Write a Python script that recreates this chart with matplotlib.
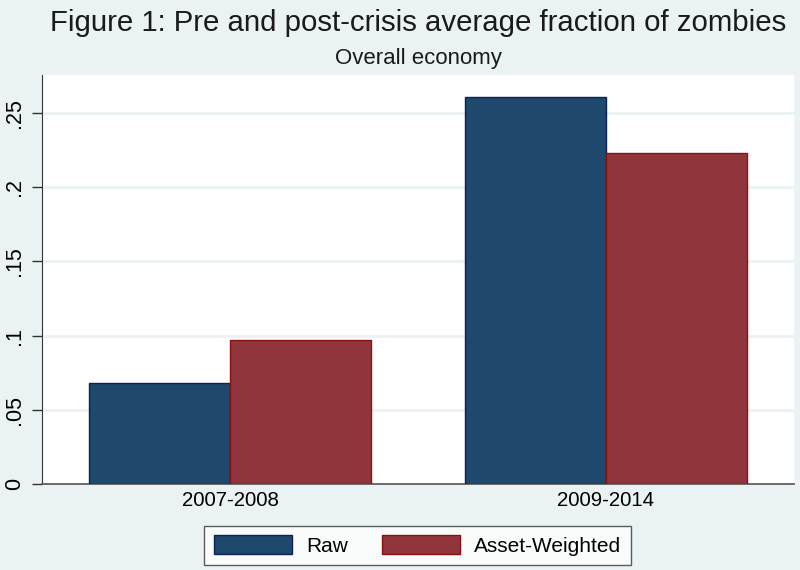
import matplotlib
matplotlib.use('Agg')
import matplotlib.pyplot as plt
import numpy as np

periods = ['2007-2008', '2009-2014']
raw = [0.068, 0.261]
asset_weighted = [0.097, 0.223]
yticks = [0, 0.05, 0.1, 0.15, 0.2, 0.25]
ytick_labels = ['0', '.05', '.1', '.15', '.2', '.25']

bg = '#eaf2f3'
navy = '#1f486d'
maroon = '#8f353b'

plt.rcParams['font.family'] = ['Liberation Sans', 'DejaVu Sans']

fig = plt.figure(figsize=(8, 5.7), dpi=100, facecolor=bg)
ax = fig.add_axes([42 / 800, 86 / 570, 752 / 800, 409 / 570])
ax.set_facecolor('white')

x = np.arange(len(periods))
w = 0.375
ax.bar(x - w / 2, raw, w, color=navy, edgecolor='#0d2357', linewidth=1.0,
       label='Raw', zorder=3)
ax.bar(x + w / 2, asset_weighted, w, color=maroon, edgecolor='#8b1010',
       linewidth=1.0, label='Asset-Weighted', zorder=3)

ax.set_xlim(-0.5, 1.5)
ax.set_ylim(0, 0.2756)
ax.set_yticks(yticks)
ax.set_yticklabels(ytick_labels, rotation=90, va='center', fontsize=15.5)
ax.set_xticks(x)
ax.set_xticklabels(periods, fontsize=14.7)
ax.tick_params(axis='y', length=7, width=1, color='#333333', pad=5)
ax.tick_params(axis='x', length=0, pad=5)
ax.yaxis.grid(True, color=bg, linewidth=2, zorder=0)
ax.set_axisbelow(True)

for side in ['top', 'right']:
    ax.spines[side].set_visible(False)
ax.spines['left'].set_color('#333333')
ax.spines['bottom'].set_color('#555555')
ax.spines['bottom'].set_linewidth(1.2)

fig.text(0.5225, 0.96, 'Figure 1: Pre and post-crisis average fraction of zombies',
         ha='center', va='center', fontsize=21.2, color='#1a1a1a')
fig.text(0.5225, 0.898, 'Overall economy', ha='center', va='center', fontsize=16,
         color='#1a1a1a')

leg = fig.legend(loc='center', bbox_to_anchor=(417.5 / 800, 1 - 545.5 / 570), ncol=2,
                 fontsize=15, frameon=True, fancybox=False, edgecolor='#333333',
                 handlelength=3.75, handleheight=1.0, handletextpad=0.7,
                 columnspacing=1.6, borderpad=0.45)
leg.get_frame().set_linewidth(1.0)

fig.savefig('out.png', dpi=100, facecolor=bg)
